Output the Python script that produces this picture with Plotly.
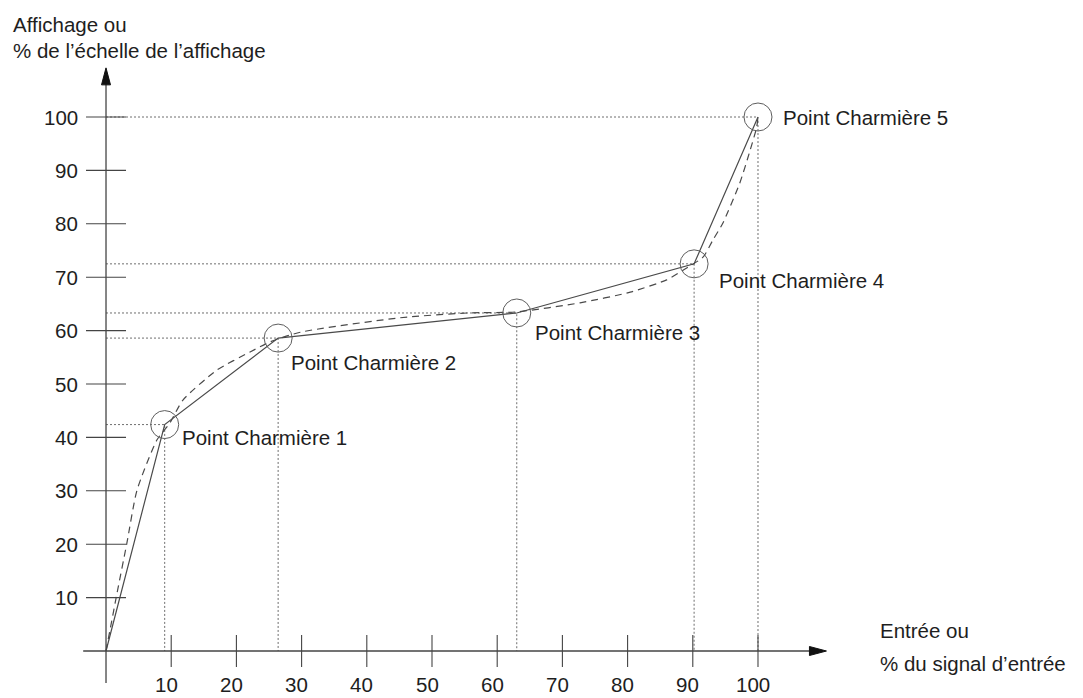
import plotly.graph_objects as go

# ---------------- data ----------------
x_ticks = [10, 20, 30, 40, 50, 60, 70, 80, 90, 100]
y_ticks = [10, 20, 30, 40, 50, 60, 70, 80, 90, 100]
x_tick_labels = [str(v) for v in x_ticks]
y_tick_labels = [str(v) for v in y_ticks]

hinge_x = [9.0, 26.4, 63.0, 90.2, 100.0]
hinge_y = [42.4, 58.6, 63.3, 72.5, 100.0]
hinge_labels = ["Point Charmière 1", "Point Charmière 2", "Point Charmière 3",
                "Point Charmière 4", "Point Charmière 5"]

# piecewise-linear characteristic (through the hinge points)
solid_x = [0.0] + hinge_x
solid_y = [0.0] + hinge_y

# smooth (real) characteristic, dashed
curve_x = [0.0, 1.7, 3.2, 4.75, 7.8, 9.8, 11.8, 17.0, 22.1, 25.2, 29.8, 45.1, 55.4,
           62.9, 72.7, 80.4, 86.0, 88.5, 91.6, 93.1, 94.6, 97.2, 98.8, 99.8, 100.0]
curve_y = [0.0, 10.9, 20.2, 30.1, 39.5, 42.7, 47.0, 52.6, 56.0, 57.9, 59.7, 62.4, 63.3,
           63.5, 65.2, 67.2, 69.5, 71.3, 73.8, 77.0, 80.1, 87.6, 93.8, 98.1, 100.0]

y_title = ["Affichage ou", "% de l’échelle de l’affichage"]
x_title = ["Entrée ou", "% du signal d’entrée"]

# ---------------- layout constants ----------------
W, H = 1083, 698
X_RANGE = [-16.26, 149.85]
Y_RANGE = [-8.80, 121.91]
AX_X_MIN, AX_X_MAX = -3.5, 110.5
AX_Y_MIN, AX_Y_MAX = -6.0, 109.2
FONT = "Liberation Sans, Arial, Helvetica, sans-serif"
TXT = "#1e1e1e"
AXC = "#444444"
FS = 20.5

label_shift = [(15, -13), (11, -24), (16, -20), (23, -17), (23, 0)]


def fx(px):
    return px / W


def fy(py):
    return 1 - py / H


fig = go.Figure()

# dotted guide lines from axes to each hinge point
gx, gy = [], []
for x, y in zip(hinge_x, hinge_y):
    gx += [0, x, x, None]
    gy += [y, y, 0, None]
fig.add_trace(go.Scatter(x=gx, y=gy, mode="lines", hoverinfo="skip",
                         line=dict(color="#6e6e6e", width=1, dash="2px,2px")))

# dashed smooth curve
fig.add_trace(go.Scatter(x=curve_x, y=curve_y, mode="lines",
                         line=dict(color="#4a4a4a", width=1.2, dash="7px,5px",
                                   shape="spline", smoothing=0.6)))

# solid piecewise-linear curve
fig.add_trace(go.Scatter(x=solid_x, y=solid_y, mode="lines",
                         line=dict(color="#4a4a4a", width=1.2)))

# circles around hinge points
fig.add_trace(go.Scatter(x=hinge_x, y=hinge_y, mode="markers",
                         marker=dict(symbol="circle-open", size=28,
                                     color="#5e5e5e", line=dict(width=1, color="#5e5e5e"))))

shapes = []
# axes lines
shapes.append(dict(type="line", xref="x", yref="y", x0=0, x1=0, y0=AX_Y_MIN, y1=AX_Y_MAX - 2,
                   line=dict(color=AXC, width=1.3)))
shapes.append(dict(type="line", xref="x", yref="y", x0=AX_X_MIN, x1=AX_X_MAX - 2, y0=0, y1=0,
                   line=dict(color=AXC, width=1.3)))
# arrow heads
shapes.append(dict(type="path", xref="x", yref="y", xsizemode="pixel", ysizemode="pixel",
                   xanchor=0, yanchor=AX_Y_MAX, path="M -4.5 -17 L 4.5 -17 L 0 0 Z",
                   fillcolor="#111111", line=dict(color="#111111", width=1)))
shapes.append(dict(type="path", xref="x", yref="y", xsizemode="pixel", ysizemode="pixel",
                   xanchor=AX_X_MAX, yanchor=0, path="M -17 -4.5 L -17 4.5 L 0 0 Z",
                   fillcolor="#111111", line=dict(color="#111111", width=1)))
# tick marks crossing the axes
for v in y_ticks:
    shapes.append(dict(type="line", xref="x", yref="y", xsizemode="pixel", xanchor=0,
                       x0=-20, x1=20, y0=v, y1=v, line=dict(color=AXC, width=1.1)))
for v in x_ticks:
    shapes.append(dict(type="line", xref="x", yref="y", ysizemode="pixel", yanchor=0,
                       y0=-16, y1=16, x0=v, x1=v, line=dict(color=AXC, width=1.1)))

annotations = []
for v, t in zip(y_ticks, y_tick_labels):
    annotations.append(dict(x=0, y=v, xref="x", yref="y", text=t, showarrow=False,
                            xanchor="right", yanchor="middle", xshift=-26,
                            font=dict(family=FONT, size=FS, color=TXT)))
for v, t in zip(x_ticks, x_tick_labels):
    annotations.append(dict(x=v, y=0, xref="x", yref="y", text=t, showarrow=False,
                            xanchor="center", yanchor="middle", xshift=-5, yshift=-33,
                            font=dict(family=FONT, size=FS, color=TXT)))
for x, y, t, (sx, sy) in zip(hinge_x, hinge_y, hinge_labels, label_shift):
    annotations.append(dict(x=x, y=y, xref="x", yref="y", text=t, showarrow=False,
                            xanchor="left", yanchor="middle", xshift=sx, yshift=sy,
                            font=dict(family=FONT, size=FS, color=TXT)))
for t, py in zip(y_title, [24, 51]):
    annotations.append(dict(x=fx(11), y=fy(py), xref="paper", yref="paper", text=t,
                            showarrow=False, xanchor="left", yanchor="middle",
                            font=dict(family=FONT, size=FS, color=TXT)))
for t, py in zip(x_title, [630, 663]):
    annotations.append(dict(x=fx(878), y=fy(py), xref="paper", yref="paper", text=t,
                            showarrow=False, xanchor="left", yanchor="middle",
                            font=dict(family=FONT, size=FS, color=TXT)))

fig.update_layout(
    width=W, height=H, autosize=False,
    margin=dict(l=0, r=0, t=0, b=0, pad=0),
    paper_bgcolor="white", plot_bgcolor="white",
    showlegend=False,
    xaxis=dict(range=X_RANGE, visible=False, fixedrange=True),
    yaxis=dict(range=Y_RANGE, visible=False, fixedrange=True),
    shapes=shapes, annotations=annotations,
)

fig.write_html("out.html", config={"displayModeBar": False},
               post_script="document.body.style.margin='0';document.body.style.overflow='hidden';")
